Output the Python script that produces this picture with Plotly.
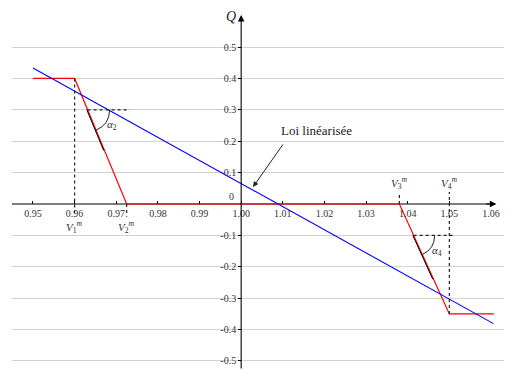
import math
import plotly.graph_objects as go

# ---- data ----
red_x = [0.95, 0.96, 0.9725, 1.038, 1.05, 1.0607]
red_y = [0.40, 0.40, 0.0, 0.0, -0.35, -0.35]
blue_x = [0.95, 1.0606]
blue_y = [0.433, -0.381]
x_ticks = [0.95, 0.96, 0.97, 0.98, 0.99, 1.00, 1.01, 1.02, 1.03, 1.04, 1.05, 1.06]
x_ticktext = ["0.95", "0.96", "0.97", "0.98", "0.99", "1.00", "1.01", "1.02", "1.03", "1.04", "1.05", "1.06"]
y_ticks = [0.5, 0.4, 0.3, 0.2, 0.1, -0.1, -0.2, -0.3, -0.4, -0.5]
y_ticktext = ["0.5", "0.4", "0.3", "0.2", "0.1", "-0.1", "-0.2", "-0.3", "-0.4", "-0.5"]
V1, V2, V3, V4 = 0.96, 0.9725, 1.038, 1.05

FONT = "Liberation Serif"
XR = [0.94496, 1.06505]
YR = [-0.5287, 0.6242]
W, H = 504, 362   # page body has an 8px margin
ML = 4

fig = go.Figure()

fig.add_trace(go.Scatter(x=red_x, y=red_y, mode="lines",
                         line=dict(color="#ff0000", width=1.2), hoverinfo="skip"))
fig.add_trace(go.Scatter(x=blue_x, y=blue_y, mode="lines",
                         line=dict(color="#0000ff", width=1.1), hoverinfo="skip"))


def red_x_at(y, xa, ya, xb, yb):
    return xa + (y - ya) / (yb - ya) * (xb - xa)


c2x = red_x_at(0.3, V1, 0.4, V2, 0.0)
c4x = red_x_at(-0.1, V3, 0.0, V4, -0.35)
t2x = red_x_at(0.17, V1, 0.4, V2, 0.0)
t4x = red_x_at(-0.24, V3, 0.0, V4, -0.35)

px_x = (W - ML) / (XR[1] - XR[0])   # px per x unit
px_y = H / (YR[1] - YR[0])          # px per y unit

dot = dict(color="#222", width=1.2, dash="dot")
shapes = [
    # x axis line (below the data lines)
    dict(type="line", x0=XR[0], x1=1.0605, y0=0, y1=0, layer="below",
         line=dict(color="black", width=1.1)),
    dict(type="line", x0=V1, x1=V1, y0=0.4, y1=-0.041, line=dot),
    dict(type="line", x0=V2, x1=V2, y0=0.0, y1=-0.041, line=dot),
    dict(type="line", x0=V3, x1=V3, y0=0.0, y1=0.038, line=dot),
    dict(type="line", x0=V4, x1=V4, y0=-0.35, y1=0.038, line=dot),
    dict(type="line", x0=c2x, x1=0.9733, y0=0.3, y1=0.3, line=dot),
    dict(type="line", x0=c4x, x1=1.0514, y0=-0.1, y1=-0.1, line=dot),
    dict(type="line", x0=c2x - 0.0002, x1=t2x - 0.0002, y0=0.3, y1=0.17,
         line=dict(color="black", width=1)),
    dict(type="line", x0=c4x - 0.0002, x1=t4x - 0.0002, y0=-0.1, y1=-0.24,
         line=dict(color="black", width=1)),
]


def arc_path(cx, cy, r, dxp, dyp):
    L = math.hypot(dxp, dyp)
    ux, uy = dxp / L, dyp / L
    th = math.atan2(dyp, dxp)
    sx, sy = cx + r / px_x, cy
    ex, ey = cx + r * ux / px_x, cy - r * uy / px_y
    k = r / math.cos(th / 2)
    qx, qy = cx + k * math.cos(th / 2) / px_x, cy - k * math.sin(th / 2) / px_y
    return f"M {sx},{sy} Q {qx},{qy} {ex},{ey}"


shapes.append(dict(type="path", path=arc_path(c2x, 0.3, 22, 52, 126),
                   line=dict(color="#222", width=1)))
shapes.append(dict(type="path", path=arc_path(c4x, -0.1, 21, 50, 110),
                   line=dict(color="#222", width=1)))

tf = dict(family=FONT, size=10, color="#333")
lf = dict(family=FONT, size=11, color="#333")
annotations = [
    # x axis arrow head
    dict(x=1.0613, y=0, ax=-12, ay=0, xref="x", yref="y",
         text="", showarrow=True, arrowhead=2, arrowsize=1.2, arrowwidth=1.1, arrowcolor="black"),
    # y axis with arrow
    dict(x=1.0, y=0.602, ax=1.0, ay=YR[0], xref="x", yref="y", axref="x", ayref="y",
         text="", showarrow=True, arrowhead=2, arrowsize=1.2, arrowwidth=1.1, arrowcolor="black"),
    dict(x=0.99756, y=0.0223, text="0", showarrow=False, font=tf),
    dict(x=0.99755, y=0.598, text="<i>Q</i>", showarrow=False,
         font=dict(family=FONT, size=14, color="#222")),
    dict(x=1.0648, y=-0.03, text="<i>V</i>", showarrow=False,
         font=dict(family=FONT, size=14, color="#222")),
    # V labels
    dict(x=V1, y=-0.073, text="<i>V</i><sub>1</sub><sup><i>m</i></sup>", showarrow=False, font=lf),
    dict(x=V2, y=-0.073, text="<i>V</i><sub>2</sub><sup><i>m</i></sup>", showarrow=False, font=lf),
    dict(x=V3, y=0.068, text="<i>V</i><sub>3</sub><sup><i>m</i></sup>", showarrow=False, font=lf),
    dict(x=V4, y=0.068, text="<i>V</i><sub>4</sub><sup><i>m</i></sup>", showarrow=False, font=lf),
    # angle labels
    dict(x=0.96897, y=0.2516, text="<i>α</i><sub>2</sub>", showarrow=False, font=lf),
    dict(x=1.04703, y=-0.1497, text="<i>α</i><sub>4</sub>", showarrow=False, font=lf),
    # Loi linéarisée
    dict(x=1.00284, y=0.0541, ax=1.01029, ay=0.1943, xref="x", yref="y",
         axref="x", ayref="y", text="", showarrow=True, arrowhead=2,
         arrowsize=1.1, arrowwidth=1, arrowcolor="#222"),
    dict(x=1.01818, y=0.2325, text="Loi linéarisée", showarrow=False,
         font=dict(family=FONT, size=13, color="#222")),
]

fig.update_layout(
    width=W, height=H,
    margin=dict(l=ML, r=0, t=0, b=0, autoexpand=False),
    paper_bgcolor="white", plot_bgcolor="white",
    showlegend=False,
    shapes=shapes,
    annotations=annotations,
    xaxis=dict(range=XR, anchor="free", automargin=False,
               position=(0 - YR[0]) / (YR[1] - YR[0]),
               showgrid=False, zeroline=False, showline=False,
               tickmode="array", tickvals=x_ticks, ticktext=x_ticktext,
               ticks="inside", ticklen=3, tickcolor="black", tickwidth=1,
               tickfont=tf, ticklabelstandoff=2, fixedrange=True),
    yaxis=dict(range=YR, anchor="free", automargin=False,
               position=(1.0 - XR[0]) / (XR[1] - XR[0]),
               showgrid=True, gridcolor="#d2d2d2", gridwidth=1.3,
               zeroline=False, showline=False,
               tickmode="array", tickvals=y_ticks, ticktext=y_ticktext,
               ticks="outside", ticklen=3, tickcolor="black", tickwidth=1,
               tickfont=tf, fixedrange=True),
)

fig.write_html("out.html")
